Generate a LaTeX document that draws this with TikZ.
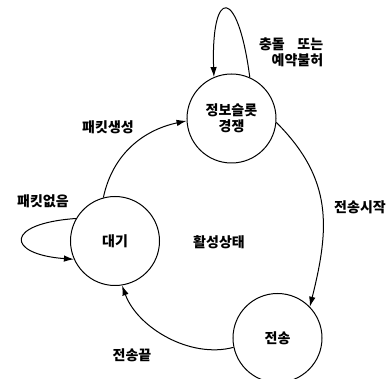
\documentclass[tikz,border=0pt]{standalone}
\usepackage{fontspec}
\newfontfamily\kr{Noto Sans CJK KR}
\usetikzlibrary{arrows.meta}

\begin{document}
\begin{tikzpicture}[x=1pt, y=-1pt, line width=1pt,
  every node/.style={font=\kr\bfseries\fontsize{14}{16}\selectfont},
  stnode/.style={draw, circle, minimum size=89pt, inner sep=0pt, align=center},
  arr/.style={-{Latex[length=10pt,width=6.5pt]}}]
  \useasboundingbox (0,0) rectangle (392,379);
  % states
  \node[stnode] (slot) at (231.5,118.5) {정보슬롯\\경쟁};
  \node[stnode] (idle) at (115,241) {대기};
  \node[stnode] (send) at (277.5,338) {전송};
  \node (active) at (219,242) {활성상태};
  % transitions
  \draw[arr] (slot.66) .. controls +(-12,-92) and +(-3,-90) .. (slot.113);
  \draw[arr] (idle.105) to[out=78, in=192] (slot.183);
  \draw[arr] (slot.-5) to[out=-45, in=76, looseness=1.1] (send.44);
  \draw[arr] (send.192) to[out=195, in=-70, looseness=0.9] (idle.-81);
  \draw[arr] (idle.150) .. controls +(-72,5) and +(-68,-5) .. (idle.204);
  % labels
  \node[anchor=east, align=right] (clash) at (327,52) {충돌\hspace{0.9em}또는\\예약불허};
  \node (gen) at (108,127) {패킷생성};
  \node (none) at (43,201) {패킷없음};
  \node (start) at (360,207) {전송시작};
  \node (done) at (132,355) {전송끝};
\end{tikzpicture}
\end{document}
